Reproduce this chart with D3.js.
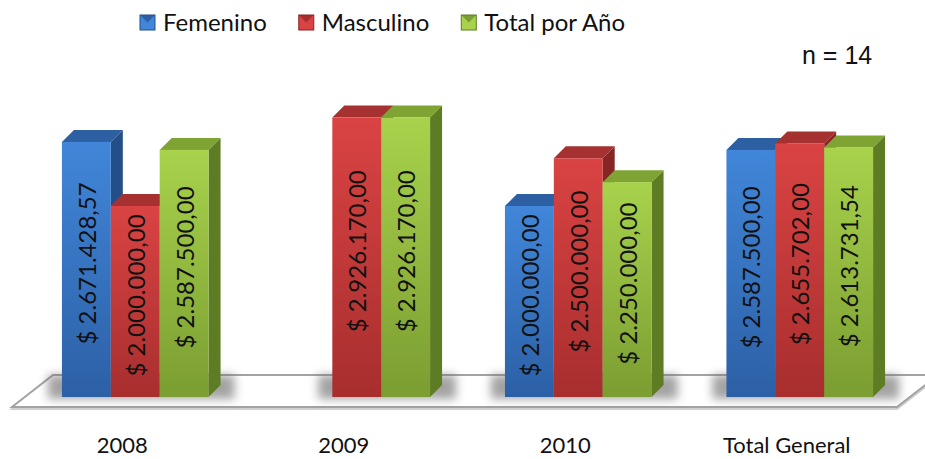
<!DOCTYPE html>
<html>
<head>
<meta charset="utf-8">
<script src="https://cdn.jsdelivr.net/npm/d3@7"></script>
<style>
  body { margin: 0; background: #fff; }
  svg { display: block; }
  text { font-family: Lato, "Open Sans", sans-serif; fill: #111; }
</style>
</head>
<body>
<svg id="chart" width="925" height="459"></svg>
<script>
const categories = ['2008', '2009', '2010', 'Total General'];
const seriesNames = ['Femenino', 'Masculino', 'Total por Año'];
const femenino = [2671428.57, null, 2000000, 2587500];
const masculino = [2000000, 2926170, 2500000, 2655702];
const totalPorAno = [2587500, 2926170, 2250000, 2613731.54];
const yMax = 3000000;

const seriesValues = [femenino, masculino, totalPorAno];

// colours: front top, front bottom, top face, side face
const palette = [
    {light: '#4186d9', dark: '#2c60a6', top: '#2d5fa3', side: '#244e88'},
    {light: '#da4343', dark: '#a82e2e', top: '#a53131', side: '#872525'},
    {light: '#a8d24c', dark: '#7b9d31', top: '#80a434', side: '#5e7c24'}
];

const svg = d3.select('#chart');
const depthX = 12, depthY = 12;

const x = d3.scaleBand().domain(categories).range([24.5, 910.5])
    .paddingInner(0.338).paddingOuter(0.169);
const xs = d3.scaleBand().domain(seriesNames).range([0, x.bandwidth()]);
const y = d3.scaleLinear().domain([0, yMax]).range([397, 110.5]);

const locale = d3.formatLocale({decimal: ',', thousands: '.', grouping: [3], currency: ['$ ', '']});
const money = locale.format('$,.2f');

const defs = svg.append('defs');
palette.forEach(function(c, i) {
    const g = defs.append('linearGradient').attr('id', 'front' + i)
        .attr('x1', 0).attr('y1', 0).attr('x2', 0).attr('y2', 1);
    g.append('stop').attr('offset', '0%').attr('stop-color', c.light);
    g.append('stop').attr('offset', '100%').attr('stop-color', c.dark);
});
defs.append('filter').attr('id', 'blur').attr('x', '-20%').attr('y', '-50%')
    .attr('width', '140%').attr('height', '200%')
    .append('feGaussianBlur').attr('stdDeviation', 5);

// floor
const base = y(0);
const floorPts = [[12, base + 10], [897, base + 10], [938, base - 22], [53, base - 22]];
svg.append('polygon')
    .attr('points', floorPts.map(p => [p[0], p[1] + 2]).join(' '))
    .attr('fill', '#ddd').attr('stroke', '#d0d0d0').attr('stroke-width', 2);
svg.append('polygon')
    .attr('points', floorPts.join(' '))
    .attr('fill', '#fff').attr('stroke', '#a3a3a3').attr('stroke-width', 2);

// soft shadows behind each group
categories.forEach(function(cat, ci) {
    const present = seriesNames.filter((s, si) => seriesValues[si][ci] != null);
    const x0 = x(cat) + xs(present[0]);
    const x1 = x(cat) + xs(present[present.length - 1]) + xs.bandwidth();
    svg.append('rect')
        .attr('x', x0 - 14).attr('y', base - 22)
        .attr('width', x1 - x0 + 40).attr('height', 24)
        .attr('fill', '#666').attr('opacity', 0.6)
        .attr('filter', 'url(#blur)');
});

// bars
categories.forEach(function(cat, ci) {
    const g = svg.append('g');
    seriesNames.forEach(function(name, si) {
        const v = seriesValues[si][ci];
        if (v == null) return;
        const c = palette[si];
        const bx = x(cat) + xs(name);
        const bw = xs.bandwidth();
        const by = y(v);
        g.append('polygon')
            .attr('points', [[bx + bw, by], [bx + bw + depthX, by - depthY],
                [bx + bw + depthX, base - depthY], [bx + bw, base]].join(' '))
            .attr('fill', c.side);
        g.append('polygon')
            .attr('points', [[bx, by], [bx + bw, by], [bx + bw + depthX, by - depthY],
                [bx + depthX, by - depthY]].join(' '))
            .attr('fill', c.top);
        g.append('rect')
            .attr('x', bx).attr('y', by)
            .attr('width', bw).attr('height', base - by)
            .attr('fill', 'url(#front' + si + ')');
        g.append('text')
            .attr('transform', 'translate(' + (bx + bw / 2) + ',' + ((by + base) / 2 - 6) + ') rotate(-90)')
            .attr('text-anchor', 'middle')
            .attr('dominant-baseline', 'central')
            .style('font-size', '24px')
            .text(money(v));
    });
});

// category labels
svg.append('g').selectAll('text').data(categories).enter().append('text')
    .attr('x', d => x(d) + x.bandwidth() / 2 - 13)
    .attr('y', 453)
    .attr('text-anchor', 'middle')
    .style('font-size', '22px')
    .text(d => d);

// legend
const legend = svg.append('g');
let lx = 140;
seriesNames.forEach(function(name, i) {
    const c = palette[i];
    legend.append('rect').attr('x', lx).attr('y', 15).attr('width', 15).attr('height', 15)
        .attr('fill', c.light);
    legend.append('polygon')
        .attr('points', [[lx, 15], [lx + 15, 15], [lx + 7.5, 22.5]].join(' '))
        .attr('fill', c.dark);
    legend.append('rect').attr('x', lx).attr('y', 15).attr('width', 15).attr('height', 15)
        .attr('fill', 'none').attr('stroke', c.side).attr('stroke-width', 1);
    const t = legend.append('text').attr('x', lx + 23).attr('y', 31)
        .style('font-size', '24px').text(name);
    lx += 23 + t.node().getComputedTextLength() + 32;
});

svg.append('text').attr('x', 802).attr('y', 64)
    .style('font-family', '"Liberation Sans", Arial, sans-serif')
    .style('font-size', '25px')
    .text('n = 14');
</script>
</body>
</html>
